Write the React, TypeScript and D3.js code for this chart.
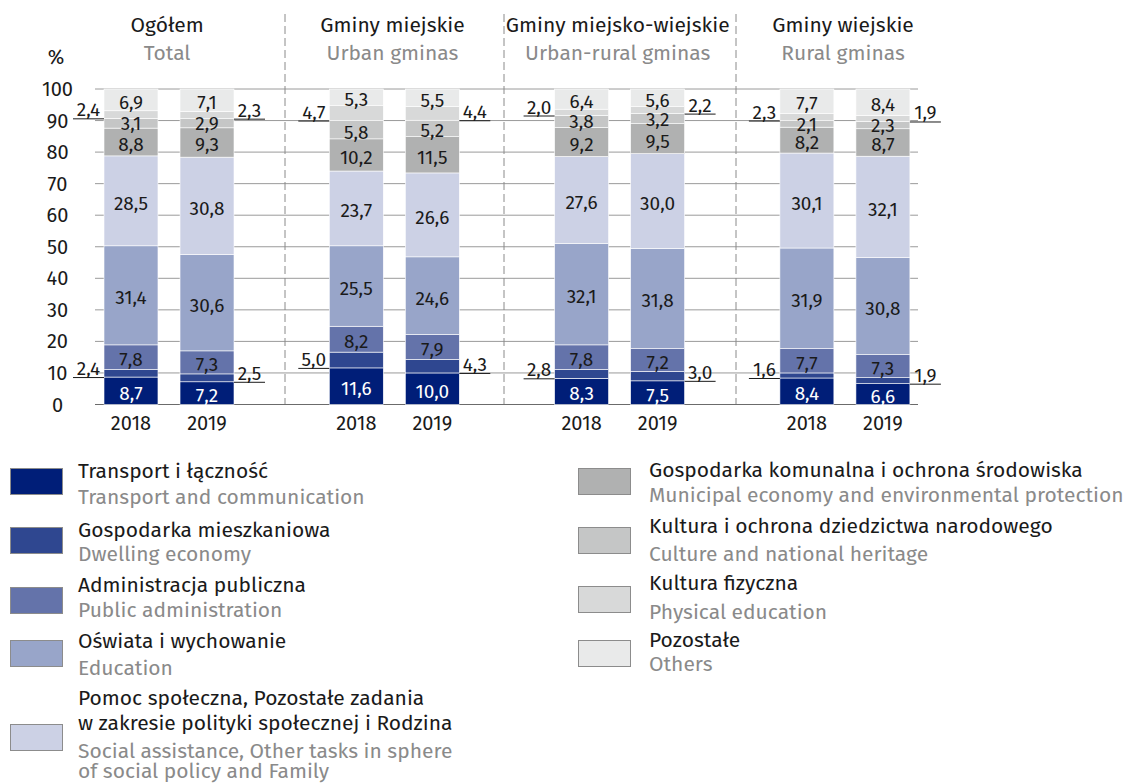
import React from "react";
import * as d3 from "d3";

// ---------- DATA ----------
const groupsPl = ["Ogółem", "Gminy miejskie", "Gminy miejsko-wiejskie", "Gminy wiejskie"];
const groupsEn = ["Total", "Urban gminas", "Urban-rural gminas", "Rural gminas"];
const years = ["2018", "2019"];

const categoriesPl = [
  ["Transport i łączność"],
  ["Gospodarka mieszkaniowa"],
  ["Administracja publiczna"],
  ["Oświata i wychowanie"],
  ["Pomoc społeczna, Pozostałe zadania", "w zakresie polityki społecznej i Rodzina"],
  ["Gospodarka komunalna i ochrona środowiska"],
  ["Kultura i ochrona dziedzictwa narodowego"],
  ["Kultura fizyczna"],
  ["Pozostałe"],
];
const categoriesEn = [
  ["Transport and communication"],
  ["Dwelling economy"],
  ["Public administration"],
  ["Education"],
  ["Social assistance, Other tasks in sphere", "of social policy and Family"],
  ["Municipal economy and environmental protection"],
  ["Culture and national heritage"],
  ["Physical education"],
  ["Others"],
];
const colors = [
  "#001e78", "#2f4790", "#6473aa", "#98a5c9", "#ccd1e5",
  "#b0b1b1", "#c5c6c6", "#d8d9d9", "#e9eaea",
];

// values bottom -> top, in category order
const total2018 = [8.7, 2.4, 7.8, 31.4, 28.5, 8.8, 3.1, 2.4, 6.9];
const total2019 = [7.2, 2.5, 7.3, 30.6, 30.8, 9.3, 2.9, 2.3, 7.1];
const urban2018 = [11.6, 5.0, 8.2, 25.5, 23.7, 10.2, 5.8, 4.7, 5.3];
const urban2019 = [10.0, 4.3, 7.9, 24.6, 26.6, 11.5, 5.2, 4.4, 5.5];
const urbanRural2018 = [8.3, 2.8, 7.8, 32.1, 27.6, 9.2, 3.8, 2.0, 6.4];
const urbanRural2019 = [7.5, 3.0, 7.2, 31.8, 30.0, 9.5, 3.2, 2.2, 5.6];
const rural2018 = [8.4, 1.6, 7.7, 31.9, 30.1, 8.2, 2.1, 2.3, 7.7];
const rural2019 = [6.6, 1.9, 7.3, 30.8, 32.1, 8.7, 2.3, 1.9, 8.4];

const barValues = [
  [total2018, total2019],
  [urban2018, urban2019],
  [urbanRural2018, urbanRural2019],
  [rural2018, rural2019],
];

const yTicks = [0, 10, 20, 30, 40, 50, 60, 70, 80, 90, 100];
const outsideCategories = [1, 7];

// ---------- LAYOUT ----------
const W = 1135;
const H = 783;
const FONT = "'Fira Sans', 'Open Sans', 'Noto Sans', sans-serif";
const GRAY_TXT = "#8a8a8a";
const TXT = "#1a1a1a";

const y = d3.scaleLinear().domain([0, 100]).range([404.5, 89]);
const xGroup = d3.scaleBand<number>().domain([0, 1, 2, 3]).range([56.5, 957.7]).padding(0);
const xYear = d3.scaleBand<string>().domain(years).range([47.5, 177.5]).paddingInner(0.29).paddingOuter(0);
const sepX = [285, 504, 736];
const gridX0 = 95;
const gridX1 = 918;

const legendLeft = { sqX: 10, txtX: 78 };
const legendRight = { sqX: 578, txtX: 649 };
const legendRows = [
  { col: 0, sqY: 468, pl: [478], en: [504] },
  { col: 0, sqY: 527, pl: [537], en: [561] },
  { col: 0, sqY: 587, pl: [592], en: [617] },
  { col: 0, sqY: 640, pl: [648], en: [675] },
  { col: 0, sqY: 724, pl: [705, 730], en: [758, 778] },
  { col: 1, sqY: 468, pl: [477], en: [502] },
  { col: 1, sqY: 527, pl: [533], en: [561] },
  { col: 1, sqY: 586, pl: [590], en: [619] },
  { col: 1, sqY: 640, pl: [647], en: [671] },
];

const fmt = (v: number) => v.toFixed(1).replace(".", ",");

export default function App() {
  const bw = xYear.bandwidth();
  return (
    <svg
      width={W}
      height={H}
      style={{ position: "absolute", left: 0, top: 0, background: "#fff" }}
      fontFamily={FONT}
    >
      {/* gridlines */}
      {yTicks.map((t) => (
        <line
          key={"g" + t}
          x1={gridX0}
          x2={gridX1}
          y1={y(t)}
          y2={y(t)}
          stroke={t === 0 ? "#6b6b6b" : "#9a9a9a"}
          strokeWidth={1}
        />
      ))}
      {/* y tick labels */}
      {yTicks.map((t) => (
        <text key={"t" + t} x={57.5} y={y(t) + 7} textAnchor="middle" fontSize={20} fill={TXT}>
          {t}
        </text>
      ))}
      <text x={56} y={64} textAnchor="middle" fontSize={20} fill={TXT}>%</text>

      {/* separators */}
      {sepX.map((sx) => (
        <line key={"s" + sx} x1={sx} x2={sx} y1={14} y2={404} stroke="#8a8a8a" strokeWidth={1} strokeDasharray="8,4" />
      ))}

      {/* groups */}
      {barValues.map((pair, gi) => {
        const gx = xGroup(gi)!;
        const cx = gx + xGroup.bandwidth() / 2;
        return (
          <g key={"grp" + gi}>
            <text x={cx - 2} y={32} textAnchor="middle" fontSize={21} fill={TXT}>{groupsPl[gi]}</text>
            <text x={cx - 2} y={60} textAnchor="middle" fontSize={21} fill={GRAY_TXT}>{groupsEn[gi]}</text>
            {pair.map((vals, yi) => {
              const bx = gx + xYear(years[yi])!;
              const stack = d3.cumsum(vals);
              return (
                <g key={"bar" + yi}>
                  {vals.map((v, ci) => {
                    const top = stack[ci];
                    const bot = top - v;
                    return (
                      <rect
                        key={"r" + ci}
                        x={bx}
                        y={y(top)}
                        width={bw}
                        height={y(bot) - y(top)}
                        fill={colors[ci]}
                        stroke="#ffffff"
                        strokeWidth={0.6}
                      />
                    );
                  })}
                  {vals.map((v, ci) => {
                    const top = stack[ci];
                    const bot = top - v;
                    if (outsideCategories.includes(ci)) {
                      const uy = y(bot) + 0.5;
                      const left = yi === 0;
                      const ux0 = left ? bx - 31 : bx + bw;
                      const ux1 = left ? bx : bx + bw + 31;
                      return (
                        <g key={"l" + ci}>
                          <line x1={ux0} x2={ux1} y1={uy} y2={uy} stroke={TXT} strokeWidth={1} />
                          <text x={(ux0 + ux1) / 2} y={uy - 2.5} textAnchor="middle" fontSize={19} fill={TXT}>
                            {fmt(v)}
                          </text>
                        </g>
                      );
                    }
                    const yc = (y(top) + y(bot)) / 2;
                    return (
                      <text
                        key={"l" + ci}
                        x={bx + bw / 2}
                        y={yc + (v < 4 ? 7 : 9)}
                        textAnchor="middle"
                        fontSize={19}
                        fill={ci === 0 ? "#ffffff" : TXT}
                      >
                        {fmt(v)}
                      </text>
                    );
                  })}
                  <text x={bx + bw / 2} y={430} textAnchor="middle" fontSize={20} fill={TXT}>
                    {years[yi]}
                  </text>
                </g>
              );
            })}
          </g>
        );
      })}

      {/* legend */}
      {legendRows.map((row, ci) => {
        const L = row.col === 0 ? legendLeft : legendRight;
        return (
          <g key={"lg" + ci}>
            <rect x={L.sqX + 0.5} y={row.sqY + 0.5} width={52} height={26} fill={colors[ci]} stroke="#8c8c8c" strokeWidth={1} />
            {categoriesPl[ci].map((s, i) => (
              <text key={"p" + i} x={L.txtX} y={row.pl[i]} fontSize={21} fill={TXT}>{s}</text>
            ))}
            {categoriesEn[ci].map((s, i) => (
              <text key={"e" + i} x={L.txtX} y={row.en[i]} fontSize={21} fill={GRAY_TXT}>{s}</text>
            ))}
          </g>
        );
      })}
    </svg>
  );
}
